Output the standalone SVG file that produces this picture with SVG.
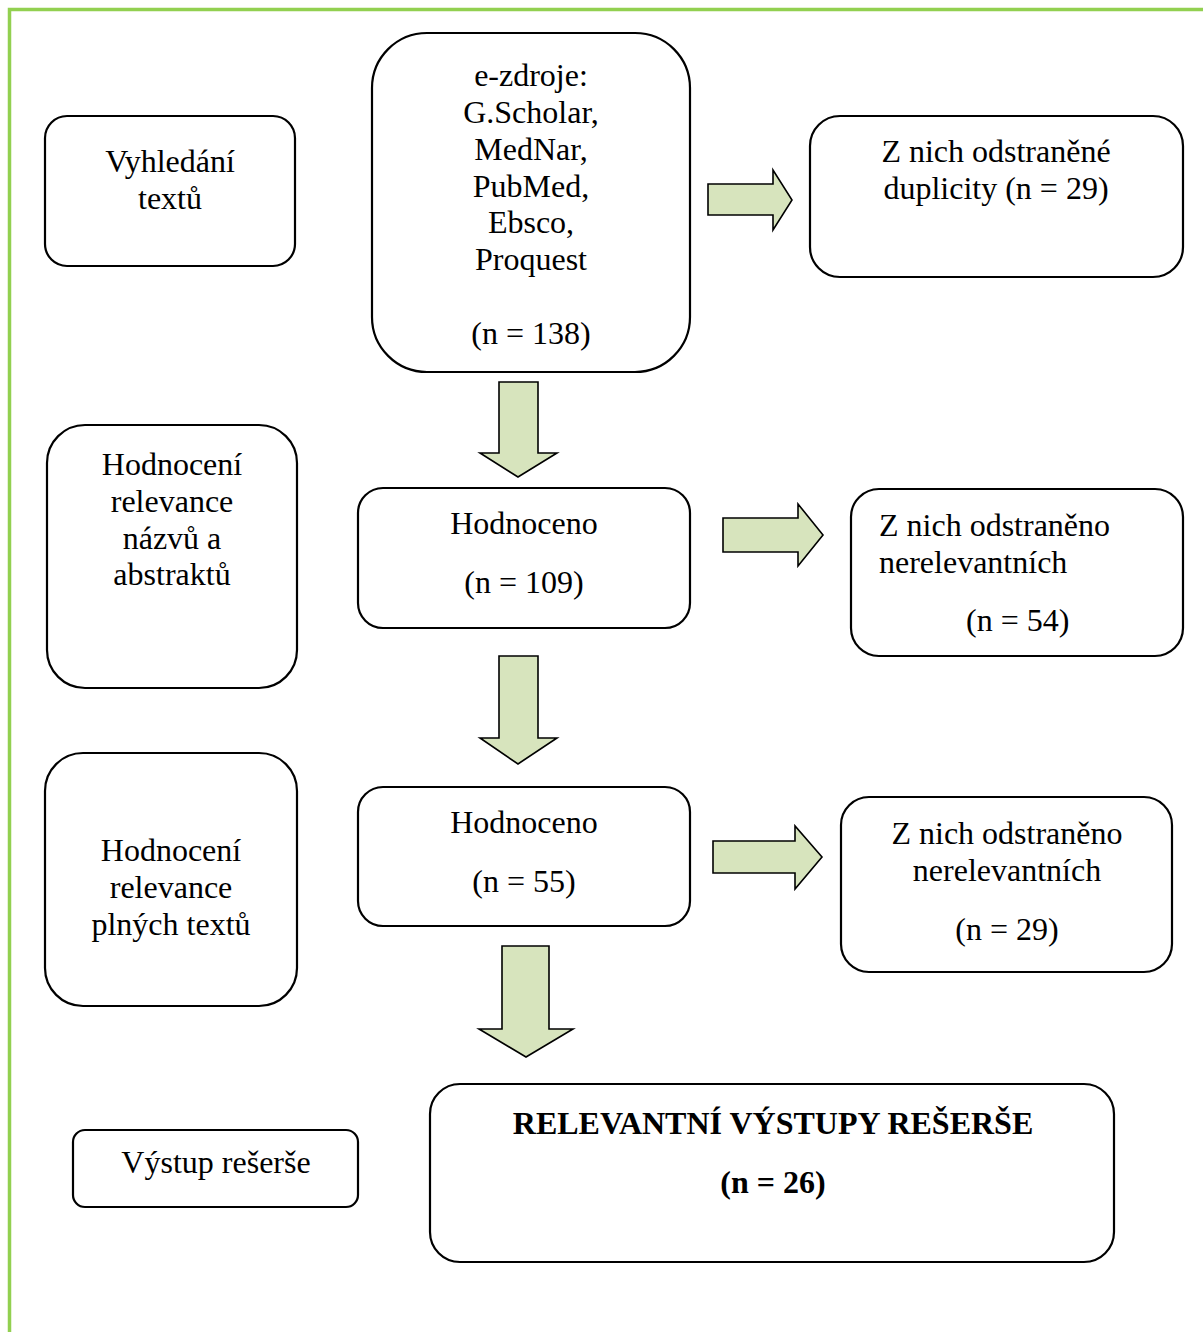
<svg xmlns="http://www.w3.org/2000/svg" width="1203" height="1332" viewBox="0 0 1203 1332">
<style>
.box{fill:#fff;stroke:#000;stroke-width:2.2}
.arr{fill:#D7E4BD;stroke:#000;stroke-width:1.6;stroke-linejoin:miter}
text{font-family:"Liberation Serif","Times New Roman",serif;font-size:32px;fill:#000}
.c{text-anchor:middle}
.b{font-weight:bold}
</style>
<rect x="0" y="0" width="1203" height="1332" fill="#fff"/>
<g id="frame" fill="none" stroke="#92D050" stroke-width="3.5">
<path d="M9.5 1332 V9.5 H1203"/>
</g>
<g id="connectors">
<path class="arr" d="M708 184 H773 V170 L792 200 L773 230 V215 H708 Z"/>
<path class="arr" d="M499 382 H538 V453 H557 L518 477 L480 453 H499 Z"/>
<path class="arr" d="M723 518 H798 V504 L823 535 L798 566 V552 H723 Z"/>
<path class="arr" d="M499 656 H538 V738 H557 L518 764 L480 738 H499 Z"/>
<path class="arr" d="M713 841 H795 V826 L822 857 L795 889 V873 H713 Z"/>
<path class="arr" d="M502 946 H549 V1029 H573 L526 1057 L479 1029 H502 Z"/>
</g>
<g id="n-vyhledani">
<rect class="box" x="45" y="116" width="250" height="150" rx="22"/>
<text class="c" x="170" y="172">Vyhledání</text>
<text class="c" x="170" y="209">textů</text>
</g>
<g id="n-ezdroje">
<rect class="box" x="372" y="33" width="318" height="339" rx="55"/>
<text class="c" x="531" y="86">e-zdroje:</text>
<text class="c" x="531" y="123">G.Scholar,</text>
<text class="c" x="531" y="160">MedNar,</text>
<text class="c" x="531" y="197">PubMed,</text>
<text class="c" x="531" y="233">Ebsco,</text>
<text class="c" x="531" y="270">Proquest</text>
<text class="c" x="531" y="344">(n = 138)</text>
</g>
<g id="n-duplicity">
<rect class="box" x="810" y="116" width="373" height="161" rx="30"/>
<text class="c" x="996" y="162">Z nich odstraněné</text>
<text class="c" x="996" y="199">duplicity (n = 29)</text>
</g>
<g id="n-hodnoceni1">
<rect class="box" x="47" y="425" width="250" height="263" rx="38"/>
<text class="c" x="172" y="475">Hodnocení</text>
<text class="c" x="172" y="512">relevance</text>
<text class="c" x="172" y="549">názvů a</text>
<text class="c" x="172" y="585">abstraktů</text>
</g>
<g id="n-hodnoceno1">
<rect class="box" x="358" y="488" width="332" height="140" rx="25"/>
<text class="c" x="524" y="534">Hodnoceno</text>
<text class="c" x="524" y="593">(n = 109)</text>
</g>
<g id="n-odstraneno1">
<rect class="box" x="851" y="489" width="332" height="167" rx="28"/>
<text x="879" y="536">Z nich odstraněno</text>
<text x="879" y="573">nerelevantních</text>
<text x="966" y="631">(n = 54)</text>
</g>
<g id="n-hodnoceni2">
<rect class="box" x="45" y="753" width="252" height="253" rx="38"/>
<text class="c" x="171" y="861">Hodnocení</text>
<text class="c" x="171" y="898">relevance</text>
<text class="c" x="171" y="935">plných textů</text>
</g>
<g id="n-hodnoceno2">
<rect class="box" x="358" y="787" width="332" height="139" rx="25"/>
<text class="c" x="524" y="833">Hodnoceno</text>
<text class="c" x="524" y="892">(n = 55)</text>
</g>
<g id="n-odstraneno2">
<rect class="box" x="841" y="797" width="331" height="175" rx="28"/>
<text class="c" x="1007" y="844">Z nich odstraněno</text>
<text class="c" x="1007" y="881">nerelevantních</text>
<text class="c" x="1007" y="940">(n = 29)</text>
</g>
<g id="n-vystup">
<rect class="box" x="73" y="1130" width="285" height="77" rx="12"/>
<text class="c" x="216" y="1173">Výstup rešerše</text>
</g>
<g id="n-relevantni">
<rect class="box" x="430" y="1084" width="684" height="178" rx="30"/>
<text class="c b" x="773" y="1134">RELEVANTNÍ VÝSTUPY REŠERŠE</text>
<text class="c b" x="773" y="1193">(n = 26)</text>
</g>
</svg>
